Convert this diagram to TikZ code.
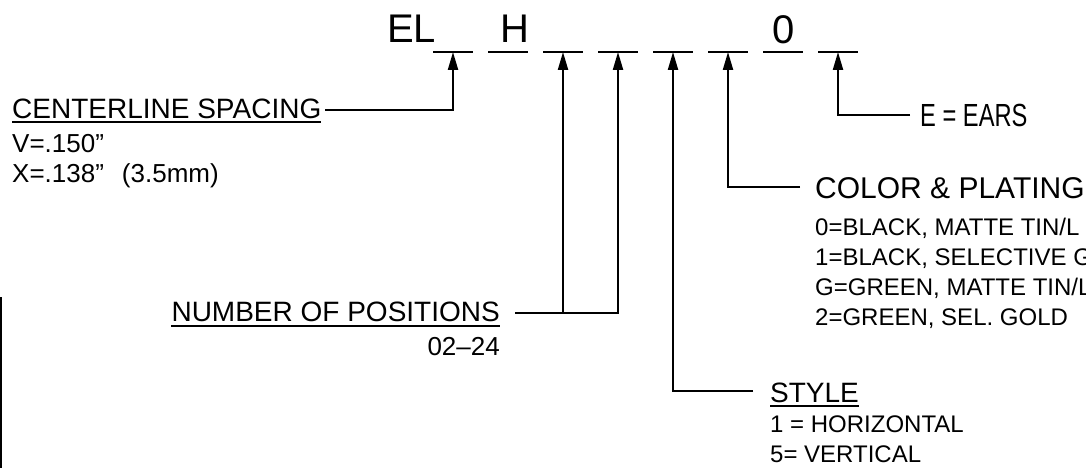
\documentclass[tikz,border=0pt]{standalone}
\usepackage{fontspec}
\setmainfont{Liberation Sans}
\usetikzlibrary{arrows.meta}
\begin{document}
\begin{tikzpicture}[x=1pt,y=-1pt,
  blank/.style={line width=2.5pt},
  conn/.style={line width=2.2pt},
  arr/.style={conn,-{Triangle[length=18pt,width=10pt]}},
  lbl/.style={inner sep=0pt, anchor=base west, font=\fontsize{28}{30}\selectfont},
  mid/.style={inner sep=0pt, anchor=base west, font=\fontsize{26}{28}\selectfont},
  sml/.style={inner sep=0pt, anchor=base west, font=\fontsize{24}{26}\selectfont},
  big/.style={inner sep=0pt, anchor=base west, font=\fontsize{40}{44}\selectfont},
  uline/.style={line width=2pt}]
\useasboundingbox (0,0) rectangle (1086,468);
\clip (0,0) rectangle (1086,468);
% blanks
\foreach \i/\x in {1/453,2/508,3/563,4/618,5/673,6/728,7/783,8/838}
  \coordinate (b\i) at (\x,52);
\foreach \i in {1,...,8}
  \draw[blank] ([xshift=-20pt]b\i) -- ([xshift=20pt]b\i);
% top letters
\node[big] (el) at (387,43) {EL};
\node[big] (h) at (500,43) {H};
\node[big] (zero) at (772,44) {0};
% centerline spacing
\node[lbl] (cs) at (12,118) {CENTERLINE SPACING};
\draw[uline] ([yshift=-4pt]cs.base west) -- ([yshift=-4pt]cs.base east);
\node[mid] (v) at (12,152) {V=.150”};
\node[mid] (x) at (12,182) {X=.138”\hspace{18pt}(3.5mm)};
\coordinate (csl) at (325,110);
\draw[arr] (csl) -| (b1);
% number of positions
\node[lbl, anchor=base east] (np) at (500,321) {NUMBER OF POSITIONS};
\draw[uline] ([yshift=-5pt]np.base west) -- ([yshift=-5pt]np.base east);
\node[mid, anchor=base east] (npr) at (500,355) {02--24};
\coordinate (npl) at (515,313);
\draw[arr] (npl) -| (b4);
\draw[arr] (npl -| b3) -- (b3);
% style
\node[lbl] (st) at (770,402) {STYLE};
\draw[uline] ([yshift=-4pt]st.base west) -- ([yshift=-4pt]st.base east);
\node[sml] (st1) at (770,432) {1 = HORIZONTAL};
\node[sml] (st5) at (770,462) {5= VERTICAL};
\coordinate (stl) at (753,391);
\draw[arr] (stl) -| (b5);
% color & plating
\node[inner sep=0pt, anchor=base west, font=\fontsize{30}{32}\selectfont] (cp) at (815,198) {COLOR \& PLATING};
\node[sml] (cp0) at (815,235) {0=BLACK, MATTE TIN/L};
\node[sml] (cp1) at (815,265) {1=BLACK, SELECTIVE G};
\node[sml] (cpg) at (815,295) {G=GREEN, MATTE TIN/L};
\node[sml] (cp2) at (815,325) {2=GREEN, SEL. GOLD};
\coordinate (cpl) at (800,187);
\draw[arr] (cpl) -| (b6);
% ears
\node[inner sep=0pt, anchor=base west, font=\fontsize{32}{34}\selectfont] (ea) at (920,126) {\scalebox{0.74}[1]{E = EARS}};
\coordinate (eal) at (910,115);
\draw[arr] (eal) -| (b8);
% left edge line
\draw[line width=2pt] (1,297) -- (1,468);
\end{tikzpicture}
\end{document}
